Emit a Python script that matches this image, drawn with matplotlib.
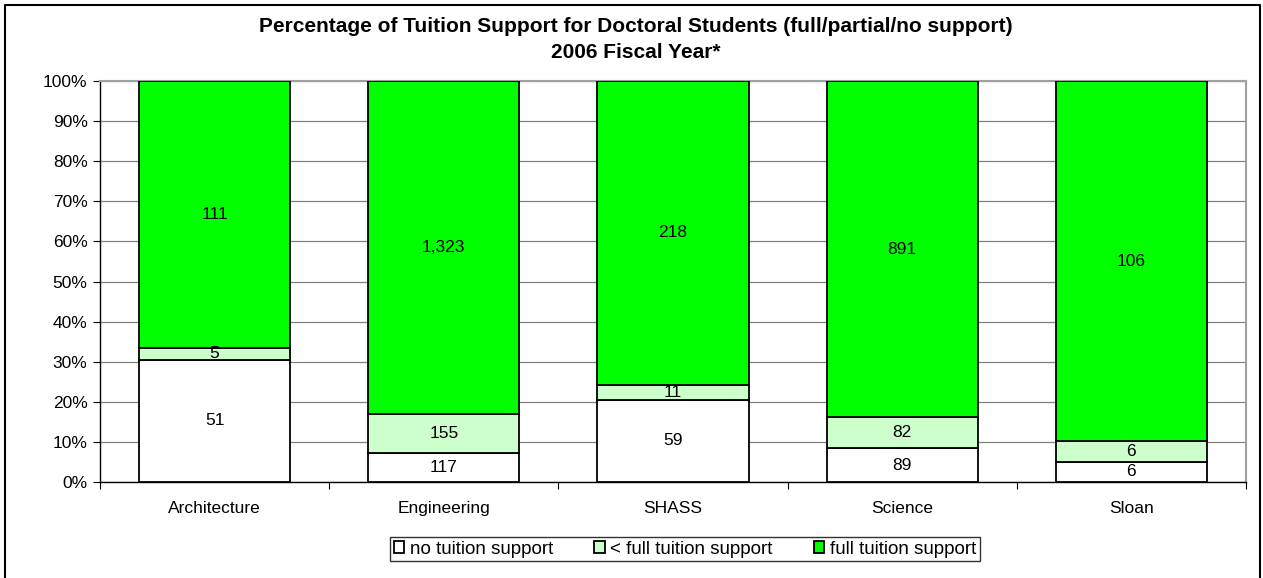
import numpy as np
import matplotlib.pyplot as plt
from matplotlib.lines import Line2D

plt.rcParams['font.family'] = ['Liberation Sans', 'DejaVu Sans']

schools = ["Architecture", "Engineering", "SHASS", "Science", "Sloan"]
no_support = [51, 117, 59, 89, 6]
partial_support = [5, 155, 11, 82, 6]
full_support = [111, 1323, 218, 891, 106]

series = [
    ("no tuition support", no_support, "#FFFFFF"),
    ("< full tuition support", partial_support, "#CCFFCC"),
    ("full tuition support", full_support, "#00FF00"),
]

FS = 12.5
W, H = 1263, 578
fig = plt.figure(figsize=(W / 100, H / 100), dpi=100)
ax = fig.add_axes([100 / W, 1 - 482 / H, 1146 / W, 401 / H])

counts = np.array([no_support, partial_support, full_support], dtype=float)
totals = counts.sum(axis=0)
x = np.arange(len(schools))
bottom = np.zeros(len(schools))
for (name, vals, color), row in zip(series, counts):
    pct = row / totals * 100
    ax.bar(x, pct, 0.66, bottom=bottom, color=color, edgecolor="black",
           linewidth=1.3, label=name, zorder=3)
    for xi, b, p, v in zip(x, bottom, pct, row):
        ax.text(xi, b + p / 2, f"{int(v):,}", ha="center", va="center",
                fontsize=FS, zorder=4)
    bottom += pct

ax.set_xlim(-0.5, len(schools) - 0.5)
ax.set_ylim(0, 100)
ax.set_yticks(np.arange(0, 101, 10))
ax.set_yticklabels([f"{t}%" for t in range(0, 101, 10)], fontsize=FS)
ax.yaxis.grid(True, color="#808080", linewidth=0.9, zorder=0)

# category ticks sit between bars, labels under bar centres
ax.set_xticks(np.arange(-0.5, len(schools), 1.0))
ax.set_xticklabels([])
ax.set_xticks(x, minor=True)
ax.set_xticklabels(schools, minor=True, fontsize=FS)
ax.tick_params(axis="x", which="minor", length=0, pad=14)
ax.tick_params(axis="x", which="major", length=5, direction="out", color="black")
ax.tick_params(axis="y", length=5, direction="out", pad=4)

for side in ("left", "bottom"):
    ax.spines[side].set_color("black")
    ax.spines[side].set_linewidth(1.0)
for side in ("top", "right"):
    ax.spines[side].set_color("#A0A0A0")
    ax.spines[side].set_linewidth(1.5)

fig.text(636 / W, 1 - 27 / H, "Percentage of Tuition Support for Doctoral Students (full/partial/no support)",
         ha="center", va="center", fontsize=15, fontweight="bold")
fig.text(636 / W, 1 - 52 / H, "2006 Fiscal Year*",
         ha="center", va="center", fontsize=15, fontweight="bold")

leg = fig.legend(loc="center", bbox_to_anchor=(685 / W, 1 - 549 / H), ncol=3,
                 frameon=True, fancybox=False, edgecolor="black", fontsize=13.5,
                 handlelength=0.55, handleheight=0.55, handletextpad=0.3,
                 columnspacing=2.2, borderpad=0.2, borderaxespad=0)
leg.get_frame().set_linewidth(1.0)

# outer chart border
fig.add_artist(Line2D([5 / W, 5 / W, 1260 / W, 1260 / W], [0, 1 - 5 / H, 1 - 5 / H, 0],
                      transform=fig.transFigure, color="black", linewidth=1.5))

fig.savefig("out.png", dpi=100)
